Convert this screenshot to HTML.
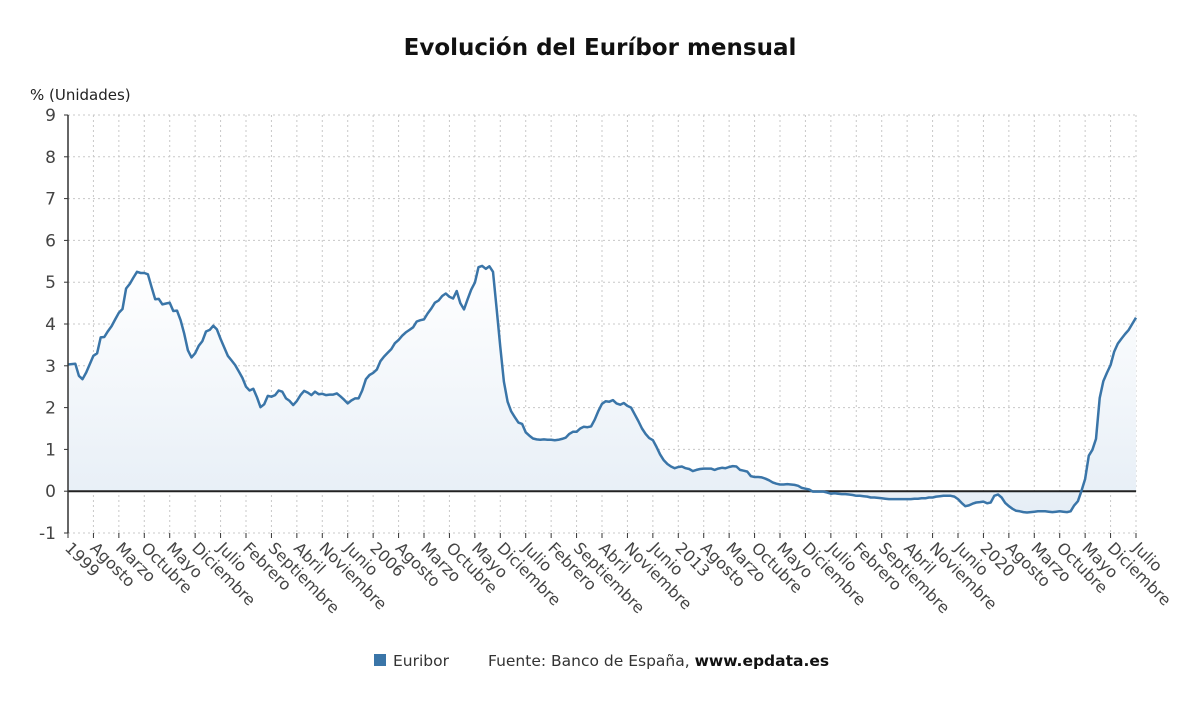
<!DOCTYPE html>
<html><head><meta charset="utf-8">
<style>
body{margin:0;background:#fff;font-family:"DejaVu Sans","Liberation Sans",sans-serif;}
svg text{font-family:"DejaVu Sans","Liberation Sans",sans-serif;}
</style></head>
<body>
<svg id="chart" width="1200" height="705" viewBox="0 0 1200 705">
<defs><linearGradient id="fillg" x1="0" y1="0" x2="0" y2="1">
<stop offset="0" stop-color="#ffffff"/><stop offset="1" stop-color="#e6eef6"/></linearGradient></defs>
<text x="600" y="55" text-anchor="middle" font-size="23" font-weight="bold" fill="#111">Evolución del Euríbor mensual</text>
<text x="30" y="100" font-size="15" fill="#222">% (Unidades)</text>
<g id="grid"></g><g id="series"></g><g id="axes"></g>
<g>
<rect x="374" y="654" width="12" height="12" fill="#3a75a8"/>
<text x="393" y="666" font-size="15.5" fill="#333">Euribor</text>
<text x="488" y="666" font-size="15.5" fill="#333">Fuente: Banco de España, <tspan font-weight="bold" fill="#111">www.epdata.es</tspan></text>
</g>
</svg>
<script>
const yTicks=[-1,0,1,2,3,4,5,6,7,8,9];
const xLabels=["1999","Agosto","Marzo","Octubre","Mayo","Diciembre","Julio","Febrero","Septiembre","Abril","Noviembre","Junio","2006","Agosto","Marzo","Octubre","Mayo","Diciembre","Julio","Febrero","Septiembre","Abril","Noviembre","Junio","2013","Agosto","Marzo","Octubre","Mayo","Diciembre","Julio","Febrero","Septiembre","Abril","Noviembre","Junio","2020","Agosto","Marzo","Octubre","Mayo","Diciembre","Julio"];
const euribor=[
3.03,3.04,3.05,2.76,2.68,2.84,3.04,3.24,3.30,3.68,3.69,3.83,
3.95,4.11,4.27,4.36,4.85,4.96,5.11,5.25,5.22,5.22,5.19,4.88,
4.59,4.60,4.47,4.49,4.51,4.31,4.32,4.09,3.77,3.37,3.20,3.30,
3.48,3.59,3.82,3.86,3.96,3.87,3.64,3.44,3.24,3.13,3.02,2.87,
2.71,2.50,2.41,2.45,2.25,2.01,2.08,2.28,2.26,2.30,2.41,2.38,
2.22,2.16,2.06,2.16,2.30,2.40,2.36,2.30,2.38,2.32,2.33,2.30,
2.31,2.31,2.34,2.27,2.19,2.10,2.17,2.22,2.22,2.41,2.68,2.78,
2.83,2.91,3.11,3.22,3.31,3.40,3.54,3.62,3.72,3.80,3.86,3.92,
4.06,4.09,4.11,4.25,4.37,4.51,4.56,4.67,4.73,4.65,4.61,4.79,
4.50,4.35,4.59,4.82,4.99,5.36,5.39,5.32,5.38,5.25,4.35,3.45,
2.62,2.14,1.91,1.77,1.64,1.61,1.41,1.33,1.26,1.24,1.23,1.24,
1.23,1.23,1.22,1.23,1.25,1.28,1.37,1.42,1.42,1.50,1.54,1.53,
1.55,1.71,1.92,2.09,2.15,2.14,2.18,2.10,2.07,2.11,2.04,2.00,
1.84,1.68,1.50,1.37,1.27,1.22,1.06,0.88,0.74,0.65,0.59,0.55,
0.58,0.59,0.55,0.53,0.48,0.51,0.53,0.54,0.54,0.54,0.51,0.54,
0.56,0.55,0.58,0.60,0.59,0.51,0.49,0.47,0.36,0.34,0.34,0.33,
0.30,0.26,0.21,0.18,0.16,0.16,0.17,0.16,0.15,0.13,0.08,0.06,
0.04,-0.01,-0.01,-0.01,-0.01,-0.03,-0.06,-0.05,-0.06,-0.07,-0.07,-0.08,
-0.09,-0.11,-0.11,-0.12,-0.13,-0.15,-0.15,-0.16,-0.17,-0.18,-0.19,-0.19,
-0.19,-0.19,-0.19,-0.19,-0.19,-0.18,-0.18,-0.17,-0.17,-0.15,-0.15,-0.13,
-0.12,-0.11,-0.11,-0.11,-0.13,-0.19,-0.28,-0.36,-0.34,-0.30,-0.27,-0.26,
-0.25,-0.29,-0.27,-0.11,-0.08,-0.15,-0.28,-0.36,-0.42,-0.47,-0.48,-0.50,
-0.51,-0.50,-0.49,-0.48,-0.48,-0.48,-0.49,-0.50,-0.49,-0.48,-0.49,-0.50,
-0.48,-0.34,-0.24,0.01,0.29,0.85,0.99,1.25,2.23,2.63,2.83,3.02,
3.34,3.53,3.65,3.76,3.86,4.01,4.15];
const NS="http://www.w3.org/2000/svg";
const X0=68,X1=1136,Y0=533,Y1=115,YMIN=-1,YMAX=9,LABEL_STEP=7;
const nMonths=(xLabels.length-1)*LABEL_STEP;
function xs(i){return X0+(X1-X0)*i/nMonths;}
function ys(v){return Y0-(v-YMIN)/(YMAX-YMIN)*(Y0-Y1);}
function mk(tag,attrs,parent){const e=document.createElementNS(NS,tag);for(const k in attrs)e.setAttribute(k,attrs[k]);parent.appendChild(e);return e;}
const grid=document.getElementById('grid'),axes=document.getElementById('axes'),series=document.getElementById('series');
yTicks.forEach(v=>{
 const l=mk('line',{x1:X0,x2:X1,y1:ys(v),y2:ys(v),stroke:'#c8c8c8','stroke-dasharray':'2,3'},grid);
 
 
 const t=mk('text',{x:56,y:ys(v)+6,'text-anchor':'end','font-size':17,fill:'#444'},axes);
 t.textContent=v;
 
 
 mk('line',{x1:64,x2:68,y1:ys(v),y2:ys(v),stroke:'#333'},axes);
});
xLabels.forEach((lab,k)=>{
 const x=xs(k*LABEL_STEP);
 const l=mk('line',{x1:x,x2:x,y1:Y1,y2:Y0,stroke:'#c8c8c8','stroke-dasharray':'2,3'},grid);
 
 
 mk('line',{x1:x,x2:x,y1:Y0,y2:Y0+5,stroke:'#333'},axes);
 const t=mk('text',{x:x-4,y:Y0+16,'font-size':16,fill:'#444',transform:`rotate(45 ${x-4} ${Y0+16})`},axes);
 t.textContent=lab;
 
 
});
const yl=mk('line',{x1:X0,x2:X0,y1:Y1,y2:Y0,stroke:'#333','stroke-width':1.5},axes);


const pts=euribor.map((v,i)=>xs(i).toFixed(1)+','+ys(v).toFixed(1));
const area=mk('path',{d:`M${xs(0)},${ys(0)} L${pts.join(' L')} L${xs(euribor.length-1)},${ys(0)} Z`,fill:'url(#fillg)'},series);


const zl=mk('line',{x1:X0,x2:X1,y1:ys(0),y2:ys(0),stroke:'#222','stroke-width':2},series);


const line=mk('path',{d:'M'+pts.join(' L'),fill:'none',stroke:'#3a75a8','stroke-width':2.5,'stroke-linejoin':'round'},series);


</script>
</body></html>
